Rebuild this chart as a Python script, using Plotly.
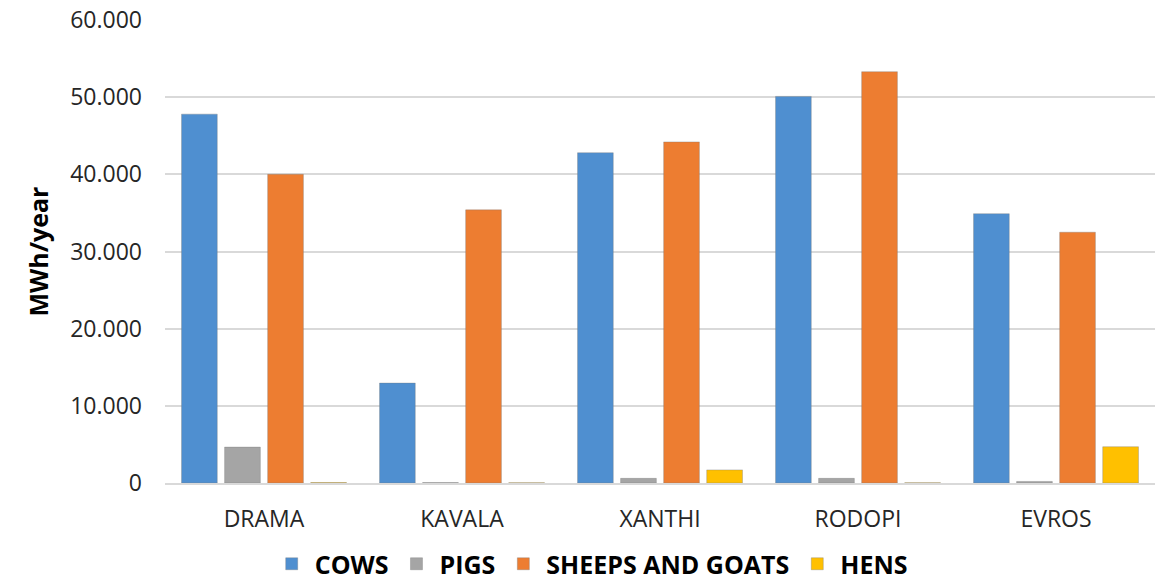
import plotly.graph_objects as go

regions = ["DRAMA", "KAVALA", "XANTHI", "RODOPI", "EVROS"]
cows = [47800, 12950, 42800, 50100, 34900]
pigs = [4650, 50, 600, 600, 200]
sheeps_goats = [40000, 35400, 44200, 53300, 32500]
hens = [60, 40, 1700, 40, 4700]

series = [
    ("COWS", cows, "#4F8FD0"),
    ("PIGS", pigs, "#A5A5A5"),
    ("SHEEPS AND GOATS", sheeps_goats, "#ED7D31"),
    ("HENS", hens, "#FFC000"),
]

fig = go.Figure()
for name, vals, color in series:
    fig.add_trace(go.Bar(
        x=regions, y=vals, name=name,
        marker=dict(color=color, line=dict(color="rgba(120,120,120,0.35)", width=1)),
    ))

fig.update_layout(
    width=1171, height=582,
    margin=dict(l=165, r=16, t=20, b=99, autoexpand=False),
    paper_bgcolor="white", plot_bgcolor="white",
    barmode="group", bargap=0.13, bargroupgap=0.17,
    separators=",.",
    font=dict(family="Open Sans, DejaVu Sans, sans-serif", color="#262626"),
    showlegend=True,
    legend=dict(orientation="h", x=0.43, xanchor="center", y=-0.175, yanchor="middle",
                font=dict(size=25, family="Open Sans, sans-serif", color="#000000", weight="bold"),
                itemwidth=36, tracegroupgap=0),
    yaxis=dict(
        range=[0, 60000], tickvals=[0, 10000, 20000, 30000, 40000, 50000, 60000],
        tickformat=",d", showgrid=True, gridcolor="#D9D9D9", gridwidth=2,
        zeroline=False, showline=False, automargin=False,
        tickfont=dict(size=23, color="#262626"),
        ticklabelstandoff=22,
        title=dict(text="<b>MWh/year</b>", font=dict(size=25, color="#000000"), standoff=14),
    ),
    xaxis=dict(
        showline=True, linecolor="#D9D9D9", linewidth=2, automargin=False,
        tickfont=dict(size=23, color="#262626"),
        ticks="", ticklabelstandoff=14,
    ),
)

fig.write_html("out.html")
